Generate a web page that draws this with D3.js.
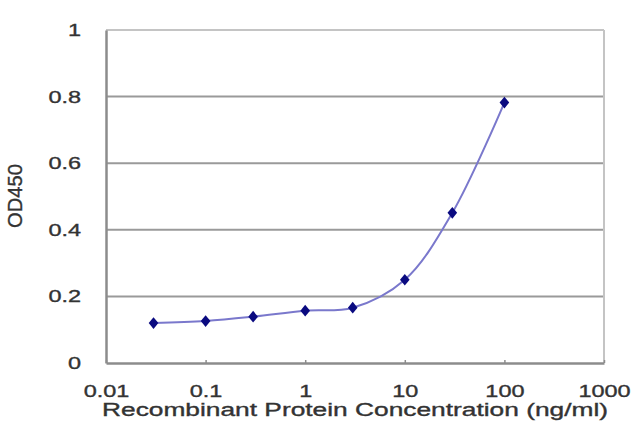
<!DOCTYPE html>
<html>
<head>
<meta charset="utf-8">
<script src="https://cdn.jsdelivr.net/npm/d3@7"></script>
<style>
  body { margin: 0; background: #fff; }
  text { font-family: Arial, "Liberation Sans", sans-serif; fill: #333; stroke: #333; stroke-width: 0.35px; }
</style>
</head>
<body>
<div id="chart"></div>
<script>
// Data
const concentrations = [0.03, 0.1, 0.3, 1, 3, 10, 30, 100];
const od450 = [0.12, 0.126, 0.139, 0.157, 0.166, 0.25, 0.451, 0.782];
const xTicks = [0.01, 0.1, 1, 10, 100, 1000];
const yTicks = [0, 0.2, 0.4, 0.6, 0.8, 1];

const width = 640;
const height = 427;
const margin = { top: 30, right: 36, bottom: 64, left: 106 };
const stretch = 1.38; // the original text is drawn wide

const svg = d3.select("#chart")
    .append("svg")
    .attr("width", width)
    .attr("height", height);

// Scales
const xScale = d3.scaleLog()
    .domain([0.01, 1000])
    .range([margin.left, width - margin.right]);

const yScale = d3.scaleLinear()
    .domain([0, 1])
    .range([height - margin.bottom, margin.top]);

// Gridlines
svg.append("g")
    .selectAll("line")
    .data(yTicks.filter((d) => d > 0))
    .enter()
    .append("line")
    .attr("x1", margin.left)
    .attr("x2", width - margin.right)
    .attr("y1", (d) => yScale(d))
    .attr("y2", (d) => yScale(d))
    .style("stroke", (d) => d === 1 ? "#c4c4c4" : "#9a9a9a")
    .style("stroke-width", 2);

// right border
svg.append("line")
    .attr("x1", width - margin.right)
    .attr("x2", width - margin.right)
    .attr("y1", margin.top)
    .attr("y2", height - margin.bottom)
    .style("stroke", "#c4c4c4")
    .style("stroke-width", 2);

// Axes
const xAxis = d3.axisBottom(xScale)
    .tickValues(xTicks)
    .tickFormat((d) => String(d))
    .tickSizeInner(-3)
    .tickSizeOuter(0)
    .tickPadding(22);

const yAxis = d3.axisLeft(yScale)
    .tickValues(yTicks)
    .tickFormat((d) => String(d))
    .tickSize(0)
    .tickPadding(18);

const gx = svg.append("g")
    .attr("transform", `translate(0, ${height - margin.bottom})`)
    .call(xAxis);

const gy = svg.append("g")
    .attr("transform", `translate(${margin.left}, 0)`)
    .call(yAxis);

[gx, gy].forEach((g) => {
    g.select(".domain").style("stroke", "#8c8c8c").style("stroke-width", 2.5);
    g.selectAll(".tick line").style("stroke", "#8c8c8c").style("stroke-width", 1.5);
    g.selectAll(".tick text")
        .style("font-size", "17px")
        .style("font-family", "Arial, 'Liberation Sans', sans-serif")
        .style("fill", "#333")
        .attr("transform", `scale(${stretch},1)`);
});
gy.selectAll(".tick line").remove();

// Axis titles
svg.append("text")
    .attr("x", (margin.left + width - margin.right) / 2)
    .attr("y", 416)
    .attr("text-anchor", "middle")
    .attr("textLength", 506)
    .attr("lengthAdjust", "spacingAndGlyphs")
    .style("font-size", "18px")
    .text("Recombinant Protein Concentration (ng/ml)");

svg.append("text")
    .attr("transform", "translate(22, 196) rotate(-90)")
    .attr("text-anchor", "middle")
    .attr("textLength", 64)
    .attr("lengthAdjust", "spacingAndGlyphs")
    .style("font-size", "21px")
    .text("OD450");

// Curve
const points = concentrations.map((c, i) => [c, od450[i]]);

const line = d3.line()
    .x((d) => xScale(d[0]))
    .y((d) => yScale(d[1]))
    .curve(d3.curveCatmullRom.alpha(0.5));

svg.append("path")
    .datum(points)
    .attr("d", line)
    .style("fill", "none")
    .style("stroke", "#7a78cc")
    .style("stroke-width", 2);

// Diamond markers
svg.selectAll(".marker")
    .data(points)
    .enter()
    .append("path")
    .attr("class", "marker")
    .attr("transform", (d) => `translate(${xScale(d[0])}, ${yScale(d[1])}) scale(1.35,0.95)`)
    .attr("d", d3.symbol(d3.symbolDiamond, 44))
    .style("fill", "#0a0a80");
</script>
</body>
</html>
